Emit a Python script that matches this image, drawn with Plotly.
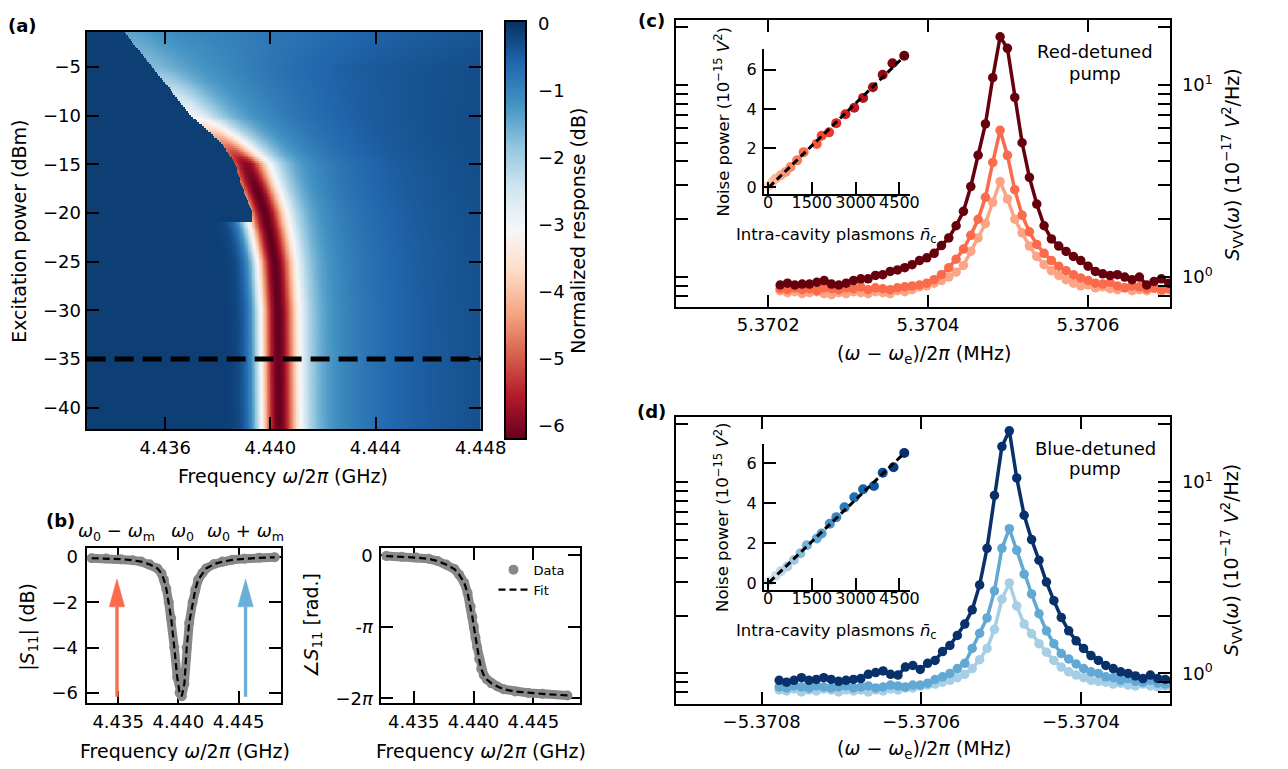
import numpy as np
import plotly.graph_objects as go

W, H = 1288, 769          # browser window
OFF = 8                   # default body margin of the page
FW, FH = W - 2 * OFF, H - 2 * OFF

# ---------------- panel (a): resonance map, parameters ----------------
map_power_knots = [-42.2, -30.0, -25.0, -22.3, -20.0, -17.6, -15.0, -12.9, -10.0, -5.0, -1.38]
map_center_ghz = [4.44034, 4.44030, 4.44018, 4.43999, 4.43980, 4.43949, 4.43910, 4.43830, 4.43700, 4.43550, 4.43444]
map_core_depth_db = [4.9, 4.9, 4.9, 4.9, 4.9, 4.9, 4.55, 3.2, 1.5, 0.35, 0.3]
map_core_width_mhz = [2.05, 2.05, 2.05, 2.1, 2.15, 2.2, 2.3, 2.6, 3.0, 3.0, 3.0]
map_wing_depth_db = [1.2, 1.2, 1.2, 1.2, 1.2, 1.2, 1.25, 1.3, 1.3, 1.2, 1.0]
map_wing_width_right_mhz = [7.0, 7.0, 7.0, 7.0, 7.0, 7.0, 7.0, 7.0, 8.0, 10.0, 16.0]
map_left_sigma_mhz = [0.555, 0.555, 0.555, 0.57, 0.6, 0.65, 0.75, 0.9, 1.1, 1.5, 2.0]
jump_power_knots = [-20.8, -20.0, -17.6, -15.0, -12.9, -10.0, -5.0, -1.38]
jump_freq_ghz = [4.43930, 4.43930, 4.43897, 4.43866, 4.43817, 4.43698, 4.43550, 4.43444]
map_background_db = -0.12
probe_power_dbm = -35
map_freq_min, map_freq_max, map_freq_step = 4.433, 4.448, 0.00003
map_pow_min, map_pow_max, map_pow_step = -42.2, -1.38, 0.2

# ---------------- panel (b): reflection at -35 dBm ----------------
s11_freq = [4.4328, 4.4340, 4.4352, 4.4362, 4.4369, 4.4376, 4.43826, 4.4386, 4.4388, 4.4390, 4.4392, 4.4394,
            4.43966, 4.4399, 4.4401, 4.44028, 4.4405, 4.44069, 4.4409, 4.44118, 4.4414, 4.44164, 4.4420,
            4.44231, 4.4430, 4.44366, 4.4445, 4.4455, 4.4467, 4.4480]
s11_db = [-0.05, -0.06, -0.09, -0.14, -0.2, -0.32, -0.5, -0.72, -1.0, -1.4, -2.0, -2.7, -4.0, -5.3, -6.0,
          -6.15, -5.6, -4.0, -2.9, -2.0, -1.45, -1.0, -0.7, -0.5, -0.3, -0.2, -0.12, -0.07, -0.03, -0.01]
phase_freq = [4.4327, 4.4340, 4.4352, 4.43624, 4.4370, 4.4377, 4.4384, 4.4388, 4.43922, 4.4395, 4.43976,
              4.43990, 4.44003, 4.44016, 4.4403, 4.44047, 4.44064, 4.44085, 4.44112, 4.4415, 4.4420,
              4.44253, 4.4435, 4.4446, 4.44576, 4.44785]
phase_rad = [-0.03, -0.06, -0.10, -0.15, -0.25, -0.40, -0.60, -0.85, -1.20, -1.65, -2.25, -2.70, -3.14,
             -3.60, -4.02, -4.55, -4.98, -5.25, -5.45, -5.62, -5.76, -5.88, -5.98, -6.04, -6.08, -6.15]
pump_red_ghz = 4.4349
omega0_ghz = 4.44035
pump_blue_ghz = 4.44558
arrow_base_db, arrow_head_db, arrow_tip_db = -6.17, -2.2, -0.97
arrow_half_width_ghz = 0.00064

# ---------------- panel (c): red-detuned pump spectra ----------------
c_start_mhz, c_step_mhz = 5.370215, 0.00000917
red_dark = [0.91, 0.93, 0.91, 0.92, 0.92, 0.94, 0.96, 0.92, 0.91, 0.93,
            0.96, 0.98, 0.98, 1.02, 1.03, 1.07, 1.09, 1.12, 1.16, 1.22,
            1.26, 1.33, 1.46, 1.60, 1.85, 2.20, 2.96, 4.31, 6.26, 10.9,
            17.8, 15.5, 8.6, 5.0, 3.3, 2.4, 1.85, 1.58, 1.45, 1.36,
            1.28, 1.22, 1.14, 1.07, 1.04, 1.02, 1.03, 1.00, 0.97, 1.00,
            0.91, 0.95, 0.98, 0.93]
red_mid = [0.87, 0.86, 0.88, 0.86, 0.87, 0.85, 0.88, 0.87, 0.86, 0.88,
           0.87, 0.89, 0.86, 0.88, 0.87, 0.86, 0.88, 0.89, 0.90, 0.91,
           0.93, 0.97, 1.03, 1.12, 1.24, 1.40, 1.65, 2.00, 2.60, 3.95,
           5.80, 4.30, 2.85, 2.10, 1.72, 1.48, 1.33, 1.22, 1.14, 1.08,
           1.03, 0.99, 0.96, 0.93, 0.92, 0.94, 0.90, 0.88, 0.90, 0.89,
           0.87, 0.88, 0.86, 0.87]
red_light = [0.85, 0.83, 0.84, 0.82, 0.83, 0.84, 0.82, 0.81, 0.83, 0.82,
             0.84, 0.83, 0.82, 0.84, 0.83, 0.82, 0.85, 0.84, 0.86, 0.89,
             0.90, 0.93, 0.96, 1.00, 1.06, 1.15, 1.36, 1.60, 1.90, 2.45,
             3.14, 2.55, 2.00, 1.70, 1.45, 1.28, 1.16, 1.08, 1.02, 0.97,
             0.93, 0.90, 0.91, 0.88, 0.89, 0.87, 0.86, 0.88, 0.85, 0.86,
             0.85, 0.87, 0.84, 0.86]
red_inset_n = [30, 157, 268, 436, 604, 772, 996, 1219, 1667, 1835, 2092, 2338, 2652, 2954, 3256, 3592, 3927, 4263, 4666]
red_inset_p = [0.08, 0.29, 0.45, 0.62, 0.79, 1.04, 1.38, 1.80, 2.22, 2.64, 2.81, 3.28, 3.73, 4.07, 4.57, 5.11, 5.75, 6.34, 6.72]

# ---------------- panel (d): blue-detuned pump spectra ----------------
d_start_mhz, d_step_mhz = -5.370778, 0.0000093
blue_dark = [0.92, 0.90, 0.92, 0.95, 0.92, 0.93, 0.95, 0.93, 0.91, 0.92,
             0.93, 0.94, 0.99, 1.01, 1.03, 0.99, 0.98, 1.08, 1.10, 1.05,
             1.13, 1.17, 1.30, 1.40, 1.58, 1.81, 2.15, 2.90, 4.50, 8.50,
             15.3, 18.5, 10.5, 6.7, 5.0, 3.9, 3.0, 2.4, 1.96, 1.67,
             1.48, 1.35, 1.24, 1.17, 1.10, 1.06, 1.02, 1.00, 0.97, 0.94,
             0.98, 0.94, 0.93, 0.92]
blue_mid = [0.85, 0.84, 0.86, 0.85, 0.84, 0.86, 0.85, 0.84, 0.85, 0.86,
            0.84, 0.85, 0.86, 0.84, 0.85, 0.87, 0.86, 0.85, 0.87, 0.87,
            0.89, 0.93, 0.96, 1.00, 1.06, 1.13, 1.35, 1.62, 1.95, 2.70,
            4.50, 5.70, 4.40, 3.30, 2.60, 2.05, 1.67, 1.43, 1.27, 1.19,
            1.12, 1.06, 1.02, 1.00, 0.96, 0.95, 0.92, 0.94, 0.91, 0.90,
            0.92, 0.89, 0.88, 0.87]
blue_light = [0.82, 0.81, 0.83, 0.80, 0.82, 0.81, 0.83, 0.82, 0.80, 0.82,
              0.81, 0.82, 0.80, 0.82, 0.81, 0.83, 0.82, 0.84, 0.84, 0.86,
              0.87, 0.88, 0.90, 0.92, 0.95, 0.99, 1.06, 1.18, 1.35, 1.70,
              2.44, 2.97, 2.25, 1.81, 1.61, 1.43, 1.29, 1.17, 1.08, 1.02,
              0.98, 0.95, 0.92, 0.91, 0.90, 0.88, 0.89, 0.87, 0.86, 0.88,
              0.86, 0.85, 0.86, 0.84]
blue_inset_n = [48, 271, 439, 663, 886, 1110, 1334, 1670, 1837, 2117, 2341, 2620, 2956, 3258, 3627, 3929, 4298, 4667]
blue_inset_p = [0.08, 0.36, 0.58, 0.82, 1.15, 1.48, 1.89, 2.22, 2.47, 2.96, 3.29, 3.78, 4.28, 4.69, 4.85, 5.51, 5.79, 6.50]

log_minor = [0.7, 0.8, 0.9, 1, 2, 3, 4, 5, 6, 7, 8, 9, 10, 20]

# ---------------- styling ----------------
FONT = "DejaVu Sans"
RDBU = ['rgb(103,0,31)', 'rgb(178,24,43)', 'rgb(214,96,77)', 'rgb(244,165,130)', 'rgb(253,219,199)',
        'rgb(247,247,247)', 'rgb(209,229,240)', 'rgb(146,197,222)', 'rgb(67,147,195)', 'rgb(33,102,172)',
        'rgb(5,48,97)']
rdbu_scale = [[i / (len(RDBU) - 1), c] for i, c in enumerate(RDBU)]
TITLE_SIZE = 19


def fx(p):
    return (p - OFF) / FW


def fy(p):
    return 1 - (p - OFF) / FH


# ---------------- build map ----------------
freq = np.arange(map_freq_min, map_freq_max + map_freq_step / 2, map_freq_step)
power = np.arange(map_pow_min, map_pow_max + 1e-9, map_pow_step)
FF, PP = np.meshgrid(freq, power)
FC = np.interp(PP, map_power_knots, map_center_ghz)
DN = np.interp(PP, map_power_knots, map_core_depth_db)
WN = np.interp(PP, map_power_knots, map_core_width_mhz)
DB = np.interp(PP, map_power_knots, map_wing_depth_db)
WBR = np.interp(PP, map_power_knots, map_wing_width_right_mhz)
SL = np.interp(PP, map_power_knots, map_left_sigma_mhz)
DM = (FF - FC) * 1000.0
right_side = DN / (1.0 + (2.0 * DM / WN) ** 2) ** 2 + DB / (1.0 + (2.0 * DM / WBR) ** 2)
left_side = (DN + DB) * np.exp(-DM ** 2 / (2.0 * SL ** 2))
z = map_background_db - np.where(DM < 0, left_side, right_side)
FJ = np.interp(PP, jump_power_knots, jump_freq_ghz)
cut = (PP >= jump_power_knots[0]) & (FF < FJ)
z = np.where(cut, map_background_db, z)
z = np.round(z, 3)

fig = go.Figure()

fig.add_trace(go.Heatmap(
    x=freq, y=power, z=z, colorscale=rdbu_scale, zmin=-6.2, zmax=0.05, xaxis='x', yaxis='y',
    hoverinfo='skip', zsmooth=False,
    colorbar=dict(x=fx(514.7), xanchor='left', xpad=0, y=fy(228.7), yanchor='middle',
                  len=424 / FH, lenmode='fraction', ypad=0, thickness=21, thicknessmode='pixels',
                  outlinewidth=2, outlinecolor='black',
                  tickvals=[0, -1, -2, -3, -4, -5, -6],
                  ticktext=['0', '−1', '−2', '−3', '−4', '−5', '−6'],
                  ticks='outside', ticklen=8, tickcolor='rgba(0,0,0,0)',
                  tickfont=dict(size=18, color='black', family=FONT))))

# ---- panel (b) ----
gray = '#888888'
fig.add_trace(go.Scatter(x=s11_freq, y=s11_db, mode='lines', line=dict(color=gray, width=9),
                         xaxis='x2', yaxis='y2', showlegend=False, hoverinfo='skip'))
fig.add_trace(go.Scatter(x=s11_freq, y=s11_db, mode='markers', marker=dict(color=gray, size=10),
                         xaxis='x2', yaxis='y2', showlegend=False, hoverinfo='skip'))
fig.add_trace(go.Scatter(x=s11_freq, y=s11_db, mode='lines', line=dict(color='black', width=2.2, dash='7px,4px'),
                         xaxis='x2', yaxis='y2', showlegend=False, hoverinfo='skip'))
fig.add_trace(go.Scatter(x=phase_freq, y=phase_rad, mode='lines', line=dict(color=gray, width=9),
                         xaxis='x3', yaxis='y3', showlegend=False, hoverinfo='skip'))
fig.add_trace(go.Scatter(x=phase_freq, y=phase_rad, mode='markers', marker=dict(color=gray, size=10),
                         xaxis='x3', yaxis='y3', name='Data', showlegend=True, hoverinfo='skip'))
fig.add_trace(go.Scatter(x=phase_freq, y=phase_rad, mode='lines', line=dict(color='black', width=2.2, dash='7px,4px'),
                         xaxis='x3', yaxis='y3', name='Fit', showlegend=True, hoverinfo='skip'))

# ---- panel (c) ----
xc = c_start_mhz + c_step_mhz * np.arange(len(red_dark))
for vals, col in [(red_light, '#fca486'), (red_mid, '#fb6a4a'), (red_dark, '#67000d')]:
    fig.add_trace(go.Scatter(x=xc, y=vals, mode='lines+markers', line=dict(color=col, width=3.5),
                             marker=dict(color=col, size=9.5), xaxis='x4', yaxis='y4',
                             showlegend=False, hoverinfo='skip'))
fig.add_trace(go.Scatter(x=red_inset_n, y=red_inset_p, mode='markers',
                         marker=dict(color=list(range(len(red_inset_n))), colorscale='Reds',
                                     cmin=-4, cmax=len(red_inset_n) - 1, size=10),
                         xaxis='x5', yaxis='y5', showlegend=False, hoverinfo='skip'))
a_r, b_r = np.polyfit(red_inset_n, red_inset_p, 1)
xr = np.array([min(red_inset_n), max(red_inset_n)])
fig.add_trace(go.Scatter(x=xr, y=a_r * xr + b_r, mode='lines', line=dict(color='black', width=3, dash='7px,4px'),
                         xaxis='x5', yaxis='y5', showlegend=False, hoverinfo='skip'))

# ---- panel (d) ----
xd = d_start_mhz + d_step_mhz * np.arange(len(blue_dark))
for vals, col in [(blue_light, '#a6cee4'), (blue_mid, '#62a8d5'), (blue_dark, '#08306b')]:
    fig.add_trace(go.Scatter(x=xd, y=vals, mode='lines+markers', line=dict(color=col, width=3.5),
                             marker=dict(color=col, size=9.5), xaxis='x6', yaxis='y6',
                             showlegend=False, hoverinfo='skip'))
fig.add_trace(go.Scatter(x=blue_inset_n, y=blue_inset_p, mode='markers',
                         marker=dict(color=list(range(len(blue_inset_n))), colorscale='Blues',
                                     cmin=-4, cmax=len(blue_inset_n) - 1, size=10),
                         xaxis='x7', yaxis='y7', showlegend=False, hoverinfo='skip'))
a_b, b_b = np.polyfit(blue_inset_n, blue_inset_p, 1)
xb = np.array([min(blue_inset_n), max(blue_inset_n)])
fig.add_trace(go.Scatter(x=xb, y=a_b * xb + b_b, mode='lines', line=dict(color='black', width=3, dash='7px,4px'),
                         xaxis='x7', yaxis='y7', showlegend=False, hoverinfo='skip'))


# ---------------- axes ----------------
def axis(domain, rng, anchor, size=18, standoff=2, **kw):
    d = dict(domain=domain, range=rng, anchor=anchor, showline=True, linecolor='black', linewidth=2,
             mirror='allticks', ticks='inside', ticklen=12, tickwidth=2.2, tickcolor='black',
             showgrid=False, zeroline=False, ticklabelstandoff=standoff,
             tickfont=dict(size=size, color='black', family=FONT))
    d.update(kw)
    return d


def inset_axis(domain, rng, anchor, standoff, **kw):
    return axis(domain, rng, anchor, size=16, standoff=standoff, mirror=False, **kw)


pi = np.pi
log_text = ['10<sup>0</sup>' if v == 1 else ('10<sup>1</sup>' if v == 10 else '') for v in log_minor]
layout = dict(
    width=FW, height=FH, autosize=False, margin=dict(l=0, r=0, t=0, b=0),
    paper_bgcolor='white', plot_bgcolor='rgba(0,0,0,0)',
    font=dict(family=FONT, size=18, color='black'),
    xaxis=axis([fx(87.3), fx(489.9)], [4.43301, 4.448], 'y', standoff=1, tickvals=[4.436, 4.440, 4.444, 4.448],
               ticktext=['4.436', '4.440', '4.444', '4.448']),
    yaxis=axis([fy(430.7), fy(28)], [-42.2, -1.38], 'x', standoff=0,
               tickvals=[-5, -10, -15, -20, -25, -30, -35, -40],
               ticktext=['−5', '−10', '−15', '−20', '−25', '−30', '−35', '−40']),
    xaxis2=axis([fx(87.3), fx(286)], [4.43238, 4.44853], 'y2', standoff=1, tickvals=[4.435, 4.440, 4.445],
                ticktext=['4.435', '4.440', '4.445'], layer='below traces'),
    yaxis2=axis([fy(708.5), fy(551.5)], [-6.46, 0.39], 'x2', standoff=3, tickvals=[0, -2, -4, -6],
                ticktext=['0', '−2', '−4', '−6'], layer='below traces'),
    xaxis3=axis([fx(388.5), fx(591)], [4.4323, 4.44887], 'y3', standoff=1, tickvals=[4.435, 4.440, 4.445],
                ticktext=['4.435', '4.440', '4.445'], layer='below traces'),
    yaxis3=axis([fy(708.5), fy(551.5)], [-6.49, 0.31], 'x3', standoff=3, tickvals=[0, -pi, -2 * pi],
                ticktext=['0', '-<i>π</i>', '−2<i>π</i>'], layer='below traces'),
    xaxis4=axis([fx(689.7), fx(1194.5)], [5.370085, 5.370703], 'y4', standoff=1,
                tickvals=[5.3702, 5.3704, 5.3706], ticktext=['5.3702', '5.3704', '5.3706']),
    yaxis4=axis([fy(306.7), fy(16)], [-0.154, 1.338], 'x4', standoff=6, type='log', side='right',
                tickvals=log_minor, ticktext=log_text),
    xaxis5=inset_axis([fx(779.3), fx(929)], [-140, 4878], 'y5', -7, tickvals=[0, 1500, 3000, 4500],
                      ticktext=['0', '1500', '3000', '4500']),
    yaxis5=inset_axis([fy(192.7), fy(46)], [-0.35, 7.04], 'x5', 2, tickvals=[0, 2, 4, 6],
                      ticktext=['0', '2', '4', '6']),
    xaxis6=axis([fx(689.7), fx(1194.5)], [-5.370907, -5.370288], 'y6', standoff=1,
                tickvals=[-5.3708, -5.3706, -5.3704], ticktext=['−5.3708', '−5.3706', '−5.3704']),
    yaxis6=axis([fy(709), fy(418.3)], [-0.158, 1.340], 'x6', standoff=6, type='log', side='right',
                tickvals=log_minor, ticktext=log_text),
    xaxis7=inset_axis([fx(779.3), fx(929)], [-140, 4878], 'y7', -7, tickvals=[0, 1500, 3000, 4500],
                      ticktext=['0', '1500', '3000', '4500']),
    yaxis7=inset_axis([fy(593.3), fy(446)], [-0.33, 6.94], 'x7', 2, tickvals=[0, 2, 4, 6],
                      ticktext=['0', '2', '4', '6']),
    legend=dict(x=fx(503), y=fy(558), xanchor='left', yanchor='top', bgcolor='rgba(0,0,0,0)',
                font=dict(size=13, family=FONT, color='black'), itemwidth=30, tracegroupgap=0),
)
fig.update_layout(**layout)

# ---------------- shapes ----------------
shapes = [dict(type='line', xref='x domain', yref='y', x0=0, x1=1, y0=probe_power_dbm, y1=probe_power_dbm,
               line=dict(color='black', width=5, dash='19px,9px'), layer='above')]
for xp, col in [(pump_red_ghz, '#fb6a4a'), (pump_blue_ghz, '#6baed6')]:
    shapes.append(dict(type='line', xref='x2', yref='y2', x0=xp, x1=xp, y0=arrow_base_db, y1=arrow_head_db,
                       line=dict(color=col, width=3.3), layer='above'))
    shapes.append(dict(type='path', xref='x2', yref='y2',
                       path=f'M {xp - arrow_half_width_ghz},{arrow_head_db} L {xp + arrow_half_width_ghz},{arrow_head_db} '
                            f'L {xp},{arrow_tip_db} Z',
                       fillcolor=col, line=dict(color=col, width=0.5), layer='above'))
fig.update_layout(shapes=shapes)

# ---------------- texts ----------------
ann = []


def text(x, y, s, size=TITLE_SIZE, angle=0, bold=False):
    ann.append(dict(x=fx(x), y=fy(y), xref='paper', yref='paper', text=f'<b>{s}</b>' if bold else s,
                    showarrow=False, textangle=angle, xanchor='center', yanchor='middle',
                    font=dict(size=size, family=FONT, color='black')))


text(22, 21.7, '(a)', size=18, bold=True)
text(61, 523, '(b)', size=18, bold=True)
text(664, 17, '(c)', size=18, bold=True)
text(664, 413, '(d)', size=18, bold=True)

text(18, 230, 'Excitation power (dBm)', angle=-90)
text(288, 478, 'Frequency <i>ω</i>/2<i>π</i> (GHz)')
text(589, 230, 'Normalized response (dB)', angle=-90)

for xv, s in [(pump_red_ghz, '<i>ω</i><sub>0</sub> − <i>ω</i><sub>m</sub>'), (omega0_ghz, '<i>ω</i><sub>0</sub>'),
              (pump_blue_ghz, '<i>ω</i><sub>0</sub> + <i>ω</i><sub>m</sub>')]:
    ann.append(dict(x=xv, y=fy(535), xref='x2', yref='paper', text=s, showarrow=False, xanchor='center',
                    yanchor='middle', font=dict(size=18, family=FONT, color='black')))
text(27.7, 630.8, '|<i>S</i><sub>11</sub>| (dB)', angle=-90)
text(187.8, 756.7, 'Frequency <i>ω</i>/2<i>π</i> (GHz)')
text(318.3, 630, '∠<i>S</i><sub>11</sub> [rad.]', angle=-90)
text(490.3, 756.7, 'Frequency <i>ω</i>/2<i>π</i> (GHz)')

xlab = '(<i>ω</i> − <i>ω</i><sub>e</sub>)/2<i>π</i> (MHz)'
ylab = '<i>S</i><sub>VV</sub>(<i>ω</i>) (10<sup>−17</sup> <i>V</i><sup>2</sup>/Hz)'
inset_y = 'Noise power (10<sup>−15</sup> <i>V</i><sup>2</sup>)'
inset_x = 'Intra-cavity plasmons <i>n̄</i><sub>c</sub>'
text(942.7, 355, xlab)
text(1257.7, 162.5, ylab, angle=-90)
text(1117.8, 48.3, 'Red-detuned', size=18)
text(1118, 70, 'pump', size=18)
text(736.2, 119.2, inset_y, size=16.5, angle=-90)
text(853.9, 235, inset_x, size=16.5)

text(942.7, 755, xlab)
text(1257.7, 563.3, ylab, angle=-90)
text(1118, 450, 'Blue-detuned', size=18)
text(1118, 471, 'pump', size=18)
text(736.2, 520, inset_y, size=16.5, angle=-90)
text(853.9, 636, inset_x, size=16.5)

fig.update_layout(annotations=ann)
fig.write_html("out.html", config={'displayModeBar': False})
